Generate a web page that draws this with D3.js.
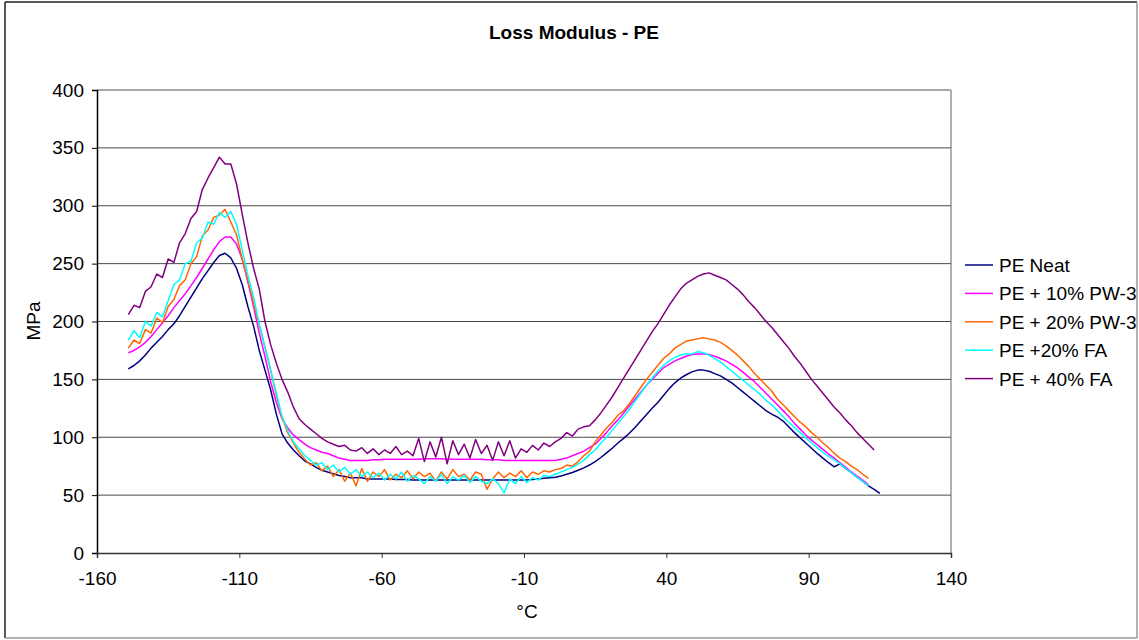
<!DOCTYPE html>
<html>
<head>
<meta charset="utf-8">
<script src="https://cdn.jsdelivr.net/npm/d3@7"></script>
<style>
  body { margin: 0; background: #fff; }
  svg { display: block; font-family: "Liberation Sans", Arial, sans-serif; }
</style>
</head>
<body>
<div id="chart"></div>
<script>
// measurement temperatures (°C), every 2 degrees
const temps = d3.range(-149, 116, 2);

const seriesNames = ["PE Neat", "PE + 10% PW-3", "PE + 20% PW-3", "PE +20% FA", "PE + 40% FA"];
const seriesColors = ["#000080", "#FF00FF", "#FF6600", "#00FFFF", "#800080"];

const xTicks = [-160, -110, -60, -10, 40, 90, 140];
const yTicks = [0, 50, 100, 150, 200, 250, 300, 350, 400];

const peNeat = [
  159, 162, 166, 171, 177, 182, 187, 193, 198, 205,
  213, 221, 229, 237, 244, 251, 257, 259, 255, 246,
  232, 213, 196, 175, 158, 141, 120, 103, 95, 89,
  84, 79.5, 77, 74, 71.5, 70, 68.5, 67, 66, 65,
  65, 65, 64, 64, 64, 64, 64, 63.5, 63.5, 63.5,
  63, 63, 63, 63, 63, 63, 63, 63, 63, 63,
  63, 63, 63, 63, 63, 63, 63, 63, 63, 63,
  63, 63.5, 64, 64.5, 65, 65.5, 66.5, 68, 69.5, 71.5,
  73.5, 76, 79, 82.5, 86.5, 90.5, 95, 99, 103.5, 108.5,
  114, 119.5, 125, 130, 136, 142, 147, 151, 154, 156.5,
  158, 158, 157, 155, 153, 150, 147, 143, 139, 135,
  131, 127, 123, 120, 117.5, 114, 109, 104, 99.5, 95,
  90.5, 86, 82, 78, 74.5, 77, 73, 69.5, 65.5, 62,
  58, 55, 51.5
];

const pe10pw = [
  173, 175, 178, 182, 187, 193, 199, 205, 212, 218,
  224, 231, 238, 246, 254, 262, 269, 273, 273, 267,
  254, 234, 213, 190, 170, 148, 130, 116, 108, 102,
  98, 94, 91, 89, 87, 86, 84, 82, 81, 80,
  80, 80, 80, 80.5, 80.5, 81, 81, 81, 81, 81,
  81, 81, 81.5, 81.5, 81.5, 81.5, 81, 81, 81, 81,
  81, 81, 81, 80.5, 80.5, 80.5, 80, 80, 80, 80,
  80, 80, 80, 80, 80, 80, 81, 82, 84, 86,
  88, 91, 94, 99, 104, 110, 115, 121, 127, 133,
  139, 145, 150, 155, 160, 163, 166, 168, 170, 171.5,
  172, 172, 171.5, 170, 168, 166, 163, 160, 156, 152,
  148, 143, 138, 133, 128, 123, 118, 112, 107, 102,
  97.5, 93.5, 89.5, 85.5, 82, 78, 74, 70, 66.5, 63,
  59, null, null
];

const pe20pw = [
  177, 184, 181, 193, 190, 203, 199, 213, 219, 231,
  236, 250, 256, 274, 279, 290, 292, 297, 286, 275,
  254, 236, 216, 197, 178, 158, 136, 117, 104, 95,
  87, 81, 76, 78, 71, 75, 66, 72, 62, 69,
  58, 73, 62, 70, 66, 72, 63, 68, 65, 71,
  64, 70, 66, 69, 62, 70, 64, 72, 66, 68,
  63, 70, 68, 55, 64, 70, 65, 69, 66, 71,
  65, 70, 68, 71, 70, 72, 73, 76, 75, 79,
  84, 88, 96, 102, 108, 113, 119, 123, 129, 136,
  143, 150, 156, 162, 168, 172, 177, 180, 183, 184,
  185, 186, 185, 184, 182, 179, 175, 171, 166, 161,
  155, 150, 145, 140, 133, 128, 123, 118, 113, 109,
  104, 100, 95, 91, 86, 82, 79, 75, 72, 68,
  64.5, null, null
];

const pe20fa = [
  184, 192, 186, 200, 196, 208, 204, 218, 232, 236,
  250, 252, 268, 272, 286, 284, 294, 290, 295, 284,
  262, 240, 221, 198, 178, 158, 138, 118, 106, 96,
  90, 84, 80, 76, 78, 72, 76, 70, 74, 68,
  72, 66, 70, 65, 69, 63, 68, 64, 70, 62,
  67, 64, 60, 66, 62, 68, 60, 66, 63, 67,
  61, 66, 62, 60, 64, 60, 52, 64, 60, 66,
  61, 65, 63, 67, 66, 68, 70, 72, 74, 77,
  80, 85, 89, 95, 100, 106, 112, 118, 124, 131,
  138, 145, 151, 157, 162, 166, 169, 171, 172, 172,
  174, 173, 171, 168, 165, 161, 157, 153, 149, 145,
  141, 137, 132, 128, 123, 118, 113, 108.5, 104, 99.5,
  95, 91, 87, 83.5, 80.5, 77, 73, 69.5, 65.5, 62,
  58, null, null
];

const pe40fa = [
  206, 214, 212, 226, 230, 241, 238, 254, 251, 268,
  276, 289, 295, 314, 324, 333, 342, 336, 336, 319,
  293, 268, 246, 228, 200, 180, 164, 150, 139, 126,
  116, 111, 107, 103, 99, 96, 94, 92, 93, 89,
  88, 91, 86, 90, 85, 89, 86, 92, 85, 88,
  84, 99, 79, 96, 83, 100, 77, 97, 85, 94,
  82, 98, 86, 93, 80, 96, 84, 97, 82, 90,
  87, 93, 89, 95, 92, 96, 99, 104, 101, 107,
  109, 110, 115, 121, 128, 135, 143, 151, 159, 167,
  175, 183, 191, 198, 206, 214, 221, 228, 233, 236,
  239, 241, 242, 240, 238, 236, 232, 228, 223, 217,
  212, 206, 200, 195, 189, 183, 177, 170, 164, 157,
  150, 144, 138, 132, 126, 121, 115, 110, 104, 99,
  94, 89, null
];

const seriesValues = [peNeat, pe10pw, pe20pw, pe20fa, pe40fa];

function draw() {
  const width = 1139;
  const height = 640;
  const font = '"Liberation Sans", Arial, sans-serif';
  const fontSize = 19;

  const svg = d3.select("#chart")
    .append("svg")
    .attr("width", width)
    .attr("height", height);

  // outer chart frame
  svg.append("rect")
    .attr("x", 0).attr("y", 0)
    .attr("width", width).attr("height", height)
    .attr("fill", "#fff");
  svg.append("line").attr("x1", 5).attr("y1", 2).attr("x2", 5).attr("y2", 638)
    .attr("stroke", "#222").attr("stroke-width", 1.5);
  svg.append("line").attr("x1", 5).attr("y1", 2).attr("x2", 1137).attr("y2", 2)
    .attr("stroke", "#222").attr("stroke-width", 1.5);
  svg.append("line").attr("x1", 5).attr("y1", 638).attr("x2", 1137).attr("y2", 638)
    .attr("stroke", "#999").attr("stroke-width", 1.5);
  svg.append("line").attr("x1", 1137).attr("y1", 2).attr("x2", 1137).attr("y2", 638)
    .attr("stroke", "#999").attr("stroke-width", 1.5);

  const x = d3.scaleLinear().domain([-160, 140]).range([97, 951]);
  const y = d3.scaleLinear().domain([0, 400]).range([553, 90]);

  // plot area border (top / right)
  svg.append("line").attr("x1", 97).attr("y1", y(400)).attr("x2", x(140)).attr("y2", y(400))
    .attr("stroke", "#a8a8a8").attr("stroke-width", 2);
  svg.append("line").attr("x1", x(140)).attr("y1", y(400)).attr("x2", x(140)).attr("y2", y(0))
    .attr("stroke", "#b0b0b0").attr("stroke-width", 2);

  // gridlines
  svg.append("g")
    .selectAll("line")
    .data(yTicks.filter(v => v > 0 && v < 400))
    .enter()
    .append("line")
    .attr("x1", x(-160))
    .attr("x2", x(140))
    .attr("y1", d => y(d))
    .attr("y2", d => y(d))
    .attr("stroke", "#4a4a4a")
    .attr("stroke-width", 1);

  // axes (plain hyphen for negatives, like the original)
  const yAxis = svg.append("g")
    .attr("transform", `translate(${x(-160)},0)`)
    .call(d3.axisLeft(y).tickValues(yTicks).tickSize(5).tickPadding(8).tickFormat(d => String(d)));
  yAxis.select(".domain").attr("stroke", "#000").attr("stroke-width", 1.5);
  yAxis.selectAll(".tick line").attr("stroke", "#000");
  yAxis.selectAll(".tick text").attr("font-size", fontSize).attr("font-family", font).attr("fill", "#000");

  const xAxis = svg.append("g")
    .attr("transform", `translate(0,${y(0)})`)
    .call(d3.axisBottom(x).tickValues(xTicks).tickSize(5).tickPadding(14).tickFormat(d => String(d)));
  xAxis.select(".domain").attr("stroke", "#333").attr("stroke-width", 1.5);
  xAxis.selectAll(".tick line").attr("stroke", "#333");
  xAxis.selectAll(".tick text").attr("font-size", fontSize).attr("font-family", font).attr("fill", "#000");

  // series
  const line = d3.line()
    .defined(d => d[1] != null)
    .x(d => x(d[0]))
    .y(d => y(d[1]));

  seriesValues.forEach((vals, i) => {
    svg.append("path")
      .datum(temps.map((t, j) => [t, vals[j]]))
      .attr("fill", "none")
      .attr("stroke", seriesColors[i])
      .attr("stroke-width", 1.5)
      .attr("stroke-linejoin", "round")
      .attr("d", line);
  });

  // title and axis labels
  svg.append("text")
    .attr("x", 574).attr("y", 39)
    .attr("text-anchor", "middle")
    .attr("font-family", font)
    .attr("font-size", fontSize)
    .attr("font-weight", "bold")
    .text("Loss Modulus - PE");

  svg.append("text")
    .attr("x", 527).attr("y", 618)
    .attr("text-anchor", "middle")
    .attr("font-family", font)
    .attr("font-size", fontSize)
    .text("°C");

  svg.append("text")
    .attr("transform", "translate(40,321) rotate(-90)")
    .attr("text-anchor", "middle")
    .attr("font-family", font)
    .attr("font-size", fontSize)
    .text("MPa");

  // legend
  const legend = svg.append("g")
    .selectAll("g")
    .data(seriesNames)
    .enter()
    .append("g")
    .attr("transform", (d, i) => `translate(965,${265 + i * 28.4})`);

  legend.append("line")
    .attr("x1", 0).attr("x2", 28)
    .attr("y1", 0).attr("y2", 0)
    .attr("stroke", (d, i) => seriesColors[i])
    .attr("stroke-width", 1.5);

  legend.append("text")
    .attr("x", 34).attr("y", 7)
    .attr("font-family", font)
    .attr("font-size", fontSize)
    .text(d => d);
}

window.onload = function () {
  draw();
};
</script>
</body>
</html>
